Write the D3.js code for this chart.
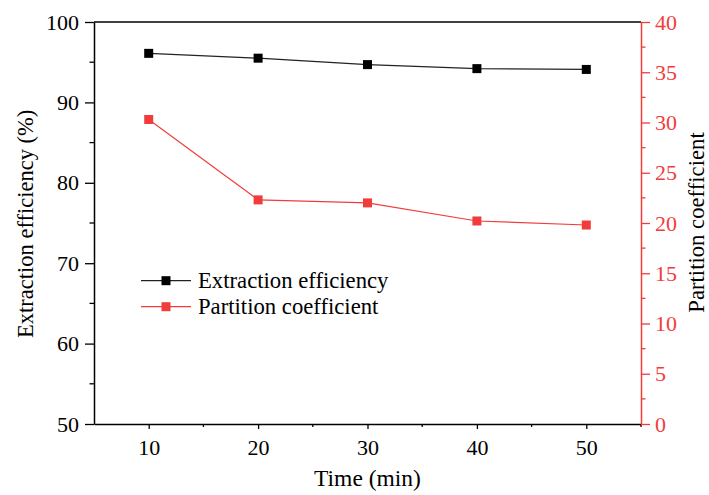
<!DOCTYPE html>
<html>
<head>
<meta charset="utf-8">
<script src="https://cdn.jsdelivr.net/npm/d3@7"></script>
<style>
  body { margin: 0; background: #fff; }
</style>
</head>
<body>
<div id="chart"></div>
<script>
const times = [10, 20, 30, 40, 50];
const efficiency = [96.1, 95.5, 94.7, 94.2, 94.1];
const partition = [30.3, 22.3, 22.0, 20.2, 19.8];
const xTicks = [10, 20, 30, 40, 50];
const leftTicks = [50, 60, 70, 80, 90, 100];
const rightTicks = [0, 5, 10, 15, 20, 25, 30, 35, 40];

const FONT = "'Liberation Serif', 'DejaVu Serif', serif";
const red = '#f23c3c';
const dimensions = {
  width: 709,
  height: 495,
  margin: { top: 22, right: 68, bottom: 71, left: 94 },
};
dimensions.boundedWidth = dimensions.width - dimensions.margin.left - dimensions.margin.right;
dimensions.boundedHeight = dimensions.height - dimensions.margin.top - dimensions.margin.bottom;

const xScale = d3.scaleLinear().domain([5, 55]).range([0, dimensions.boundedWidth]);
const yLeft = d3.scaleLinear().domain([50, 100]).range([dimensions.boundedHeight, 0]);
const yRight = d3.scaleLinear().domain([0, 40]).range([dimensions.boundedHeight, 0]);

const wrapper = d3.select('#chart').append('svg')
  .attr('width', dimensions.width)
  .attr('height', dimensions.height)
  .attr('font-family', FONT);

const bounds = wrapper.append('g')
  .attr('transform', `translate(${dimensions.margin.left},${dimensions.margin.top})`);

// top frame line
bounds.append('line')
  .attr('x1', 0).attr('x2', dimensions.boundedWidth)
  .attr('y1', 0).attr('y2', 0)
  .attr('stroke', '#000').attr('stroke-width', 1.5);

function styleAxis(g, color) {
  g.attr('font-family', FONT);
  g.select('.domain').attr('stroke', color).attr('stroke-width', 1.5);
  g.selectAll('.tick line').attr('stroke', color).attr('stroke-width', 1.3);
  g.selectAll('.tick text').attr('fill', color).style('font-family', FONT).style('font-size', '22px');
}

// minor ticks
function minor(g, scale, values, orient, len) {
  values.forEach((v) => {
    const p = scale(v);
    const l = g.append('line').attr('stroke-width', 1.3);
    if (orient === 'bottom') l.attr('x1', p).attr('x2', p).attr('y1', 0).attr('y2', len);
    if (orient === 'left') l.attr('y1', p).attr('y2', p).attr('x1', 0).attr('x2', -len);
    if (orient === 'right') l.attr('y1', p).attr('y2', p).attr('x1', 0).attr('x2', len);
  });
}

const xAxis = bounds.append('g')
  .attr('transform', `translate(0,${dimensions.boundedHeight})`)
  .call(d3.axisBottom(xScale).tickValues(xTicks).tickSize(5).tickPadding(10).tickSizeOuter(0));
styleAxis(xAxis, '#000');
minor(xAxis, xScale, [15, 25, 35, 45, 55], 'bottom', 3);
xAxis.selectAll('line').attr('stroke', '#000');

const yAxisL = bounds.append('g')
  .call(d3.axisLeft(yLeft).tickValues(leftTicks).tickSize(9).tickPadding(6).tickSizeOuter(0));
styleAxis(yAxisL, '#000');
minor(yAxisL, yLeft, [55, 65, 75, 85, 95], 'left', 4.5);
yAxisL.selectAll('line').attr('stroke', '#000');

const yAxisR = bounds.append('g')
  .attr('transform', `translate(${dimensions.boundedWidth},0)`)
  .call(d3.axisRight(yRight).tickValues(rightTicks).tickSize(9).tickPadding(5).tickSizeOuter(0));
styleAxis(yAxisR, red);
minor(yAxisR, yRight, [2.5, 7.5, 12.5, 17.5, 22.5, 27.5, 32.5, 37.5], 'right', 4.5);
yAxisR.selectAll('line').attr('stroke', red);

// axis labels
bounds.append('text')
  .attr('x', xScale(30))
  .attr('y', dimensions.boundedHeight + 62)
  .attr('text-anchor', 'middle')
  .style('font-family', FONT)
  .style('font-size', '23.5px')
  .text('Time (min)');

bounds.append('text')
  .attr('transform', `translate(${-61},${yLeft(74.9)}) rotate(-90)`)
  .attr('text-anchor', 'middle')
  .style('font-family', FONT)
  .style('font-size', '22.5px')
  .text('Extraction efficiency (%)');

bounds.append('text')
  .attr('transform', `translate(${dimensions.boundedWidth + 63},${yRight(20.05)}) rotate(-90)`)
  .attr('text-anchor', 'middle')
  .style('font-family', FONT)
  .style('font-size', '22.7px')
  .text('Partition coefficient');

// series
const series = [
  { name: 'Extraction efficiency', values: efficiency, scale: yLeft, color: '#000', line: '#222' },
  { name: 'Partition coefficient', values: partition, scale: yRight, color: red, line: red },
];

const ms = 9;
series.forEach((s) => {
  const lineGen = d3.line()
    .x((d, i) => xScale(times[i]))
    .y((d) => s.scale(d));
  bounds.append('path')
    .datum(s.values)
    .attr('fill', 'none')
    .attr('stroke', s.line)
    .attr('stroke-width', 1.2)
    .attr('d', lineGen);
  bounds.selectAll(null)
    .data(s.values)
    .enter()
    .append('rect')
    .attr('x', (d, i) => xScale(times[i]) - ms / 2)
    .attr('y', (d) => s.scale(d) - ms / 2)
    .attr('width', ms)
    .attr('height', ms)
    .attr('fill', s.color);
});

// legend
const legend = bounds.append('g').attr('transform', 'translate(47,258.7)');
series.forEach((s, i) => {
  const g = legend.append('g').attr('transform', `translate(0,${i * 26})`);
  g.append('line').attr('x1', 0).attr('x2', 50).attr('y1', 0).attr('y2', 0)
    .attr('stroke', s.line).attr('stroke-width', 1.2);
  g.append('rect').attr('x', 25 - ms / 2).attr('y', -ms / 2).attr('width', ms).attr('height', ms)
    .attr('fill', s.color);
  g.append('text').attr('x', 57).attr('y', 7.5)
    .style('font-family', FONT).style('font-size', '22.7px').text(s.name);
});
</script>
</body>
</html>
